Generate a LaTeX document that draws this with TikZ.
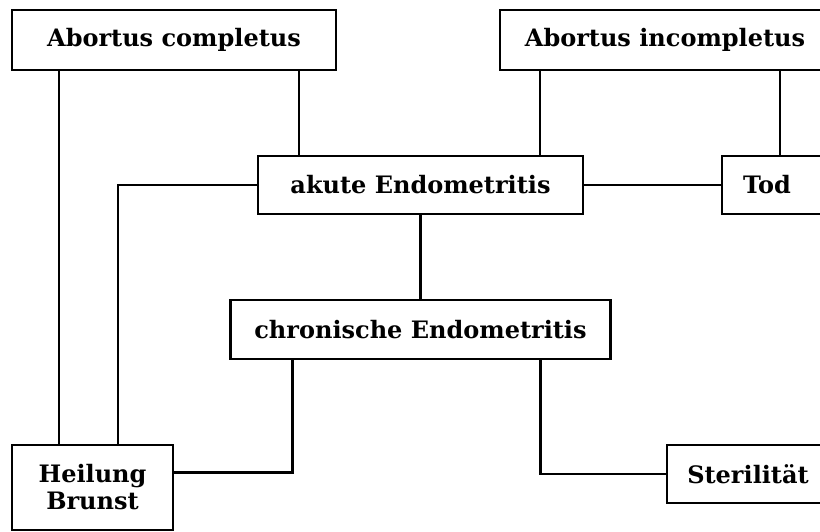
\documentclass[tikz,border=0pt]{standalone}
\usepackage{fontspec}
\setmainfont{DejaVu Serif}
\begin{document}
\begin{tikzpicture}[
    x=1pt, y=-1pt,
    box/.style={rectangle, draw, line width=2.8pt, outer sep=0pt, minimum height=60pt, align=center,
        font=\fontsize{24pt}{27pt}\selectfont\bfseries},
    link/.style={line width=2.8pt}
]
    \useasboundingbox (0,0) rectangle (820,532);
    \clip (0,0) rectangle (820,532);

    \node[box, minimum width=324pt] (compl) at (174,40) {Abortus completus};
    \node[box, minimum width=330pt] (incompl) at (665,40) {Abortus incompletus};
    \node[box, minimum width=325pt, minimum height=58pt] (akut) at (420.5,185) {akute Endometritis};
    \node[box, minimum width=108pt, minimum height=58pt] (tod) at (776,185) {Tod\hspace*{18pt}};
    \node[box, minimum width=380pt, minimum height=59pt] (chron) at (420.5,329.5) {chronische Endometritis};
    \node[box, minimum width=161pt, minimum height=85pt] (heil) at (92.5,487.5) {Heilung\\Brunst};
    \node[box, minimum width=162pt, minimum height=58pt] (steril) at (748,474) {Sterilität};

    \draw[link] ([xshift=47pt]compl.south west) -- ([xshift=47pt]heil.north west);
    \draw[link] ([xshift=-37pt]compl.south east) -- ([xshift=41pt]akut.north west);
    \draw[link] ([xshift=40pt]incompl.south west) -- ([xshift=-43pt]akut.north east);
    \draw[link] ([xshift=-50pt]incompl.south east) -- ([xshift=-50pt]tod.north east);
    \draw[link] (akut.east) -- (tod.west);
    \draw[link] (akut.west) -| ([xshift=106pt]heil.north west);
    \draw[link] (akut.south) -- (chron.north);
    \draw[link] ([xshift=62pt]chron.south west) |- ([yshift=15pt]heil.east);
    \draw[link] ([xshift=-70pt]chron.south east) |- (steril.west);
\end{tikzpicture}
\end{document}
